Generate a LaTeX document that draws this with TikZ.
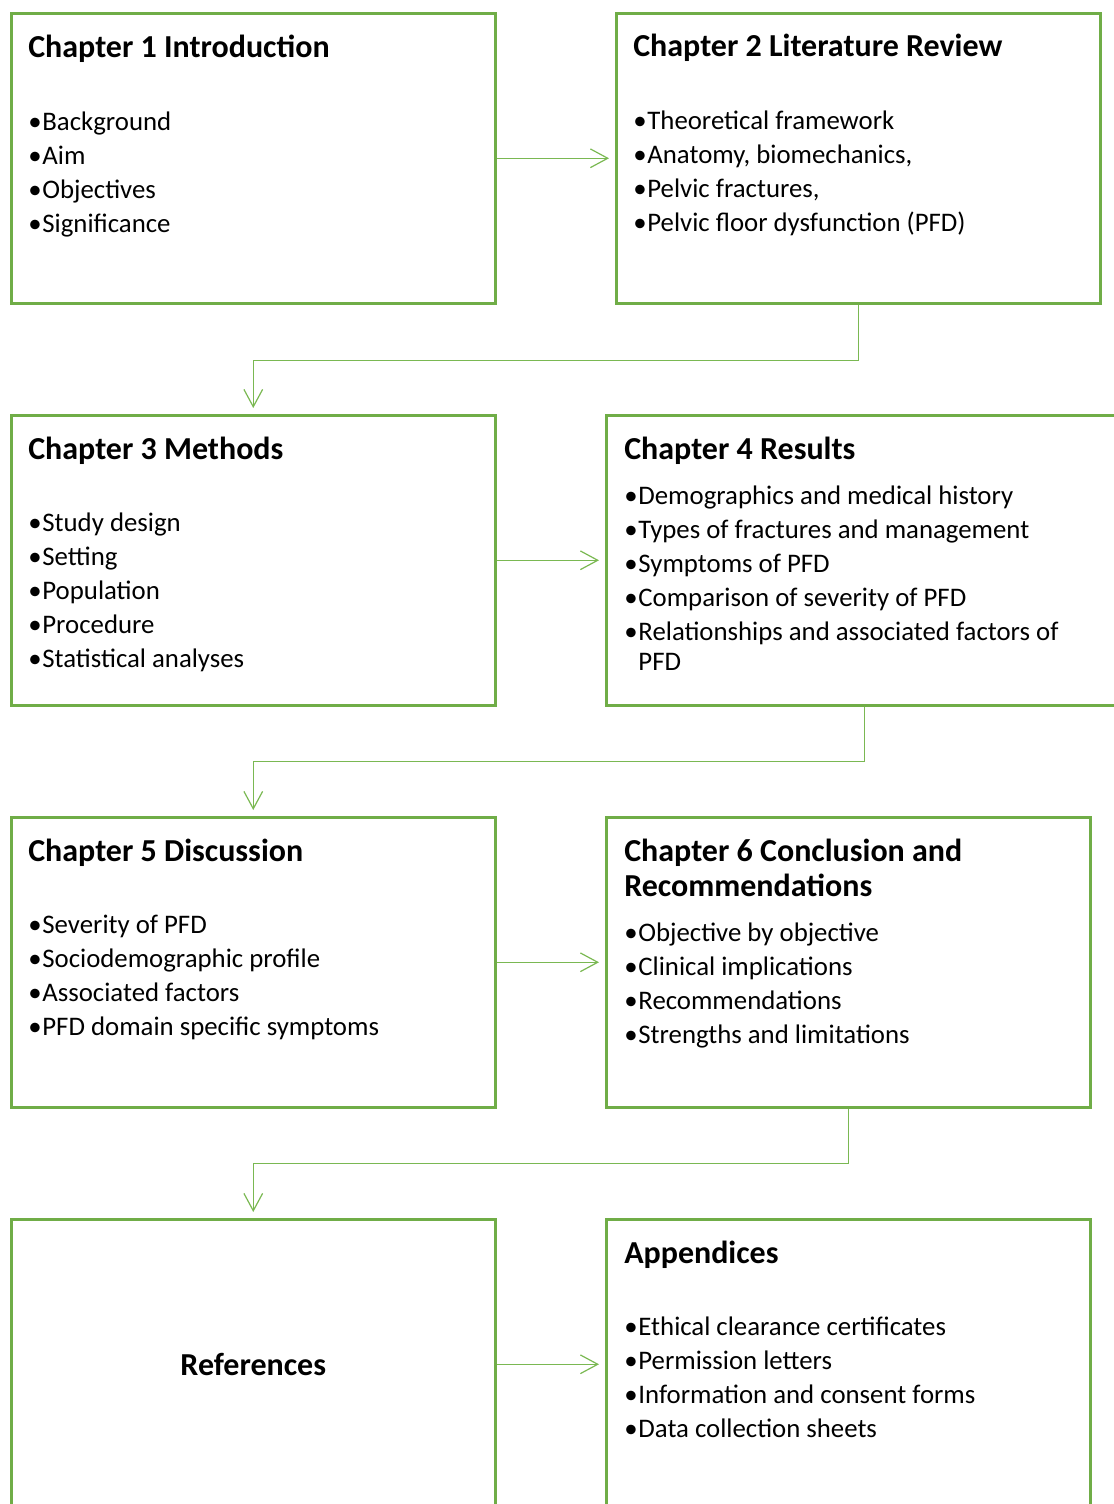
\documentclass[tikz,border=0pt]{standalone}
\usepackage{fontspec}
\setmainfont{Carlito}
\usetikzlibrary{arrows.meta}
\definecolor{boxgreen}{HTML}{70AD47}
\definecolor{linkgreen}{HTML}{7AB852}

\newcommand{\titlefont}{\fontsize{24}{27}\selectfont\bfseries}
\newcommand{\bodyfont}{\fontsize{20.1}{25.5}\selectfont}
\newcommand{\hang}{\phantom{•\kern0.6pt}}
\newcommand{\bul}{•\kern0.6pt}

\begin{document}
\begin{tikzpicture}[x=0.75pt, y=-0.75pt,
  chapbox/.style={draw=boxgreen, line width=1.9pt, anchor=north west,
    minimum width={484*0.75pt}, minimum height={290*0.75pt}, inner sep=0pt},
  chaptitle/.style={anchor=base west, inner sep=0pt, font=\titlefont, align=left},
  chapbody/.style={anchor=base west, inner sep=0pt},
  link/.style={draw=linkgreen, line width=0.9pt,
    -{Straight Barb[length=13pt, width=14pt, line width=0.9pt]}, shorten >=4.5pt}
]
\useasboundingbox (0,0) rectangle (1114,1504);
\clip (0,0) rectangle (1114,1504);

% chapter frames
\node[chapbox] (c1) at (10,12) {};
\node[chapbox] (c2) at (615,12) {};
\node[chapbox] (c3) at (10,414) {};
\node[chapbox, minimum width={516*0.75pt}] (c4) at (605,414) {};
\node[chapbox] (c5) at (10,816) {};
\node[chapbox] (c6) at (605,816) {};
\node[chapbox, minimum height={290*0.75pt}] (refs) at (10,1218) {};
\node[chapbox, minimum height={290*0.75pt}] (app) at (605,1218) {};

% headings
\node[chaptitle] (t1) at (28,57) {Chapter 1 Introduction};
\node[chaptitle] (t2) at (633,56) {Chapter 2 Literature Review};
\node[chaptitle] (t3) at (28,459) {Chapter 3 Methods};
\node[chaptitle] (t4) at (624,459) {Chapter 4 Results};
\node[chaptitle] (t5) at (28,861) {Chapter 5 Discussion};
\node[chaptitle] (t6) at (624,861) {\parbox[t]{400pt}{\titlefont\baselineskip=26.25pt Chapter 6 Conclusion and\\Recommendations}};
\node[chaptitle] (t8) at (624,1263) {Appendices};
\node[font=\titlefont, inner sep=0pt] (t7) at (refs.center) {References};

% bullet lists
\node[chapbody] (b1) at (28,130) {\parbox[t]{350pt}{\bodyfont
  \bul Background\\\bul Aim\\\bul Objectives\\\bul Significance}};
\node[chapbody] (b2) at (633,129) {\parbox[t]{350pt}{\bodyfont
  \bul Theoretical framework\\\bul Anatomy, biomechanics,\\\bul Pelvic fractures,\\\bul Pelvic floor dysfunction (PFD)}};
\node[chapbody] (b3) at (28,531) {\parbox[t]{350pt}{\bodyfont
  \bul Study design\\\bul Setting\\\bul Population\\\bul Procedure\\\bul Statistical analyses}};
\node[chapbody] (b4) at (624,504) {\parbox[t]{380pt}{\bodyfont
  \bul Demographics and medical history\\\bul Types of fractures and management\\\bul Symptoms of PFD\\\bul Comparison of severity of PFD\\\bul Relationships and associated factors of\\[-3pt]\hang PFD}};
\node[chapbody] (b5) at (28,933) {\parbox[t]{350pt}{\bodyfont
  \bul Severity of PFD\\\bul Sociodemographic profile\\\bul Associated factors\\\bul PFD domain specific symptoms}};
\node[chapbody] (b6) at (624,941) {\parbox[t]{350pt}{\bodyfont
  \bul Objective by objective\\\bul Clinical implications\\\bul Recommendations\\\bul Strengths and limitations}};
\node[chapbody] (b8) at (624,1335) {\parbox[t]{350pt}{\bodyfont
  \bul Ethical clearance certificates\\\bul Permission letters\\\bul Information and consent forms\\\bul Data collection sheets}};

% reading order
\draw[link] (c1.east) -- (c2.west);
\draw[link] (c2.south) -- ++(0,56) -| (c3.north);
\draw[link] (c3.east) -- (c4.west);
\draw[link] (c4.south) -- ++(0,55) -| (c5.north);
\draw[link] (c5.east) -- (c6.west);
\draw[link] (c6.south) -- ++(0,55) -| (refs.north);
\draw[link] (refs.east) -- (app.west);
\end{tikzpicture}
\end{document}
